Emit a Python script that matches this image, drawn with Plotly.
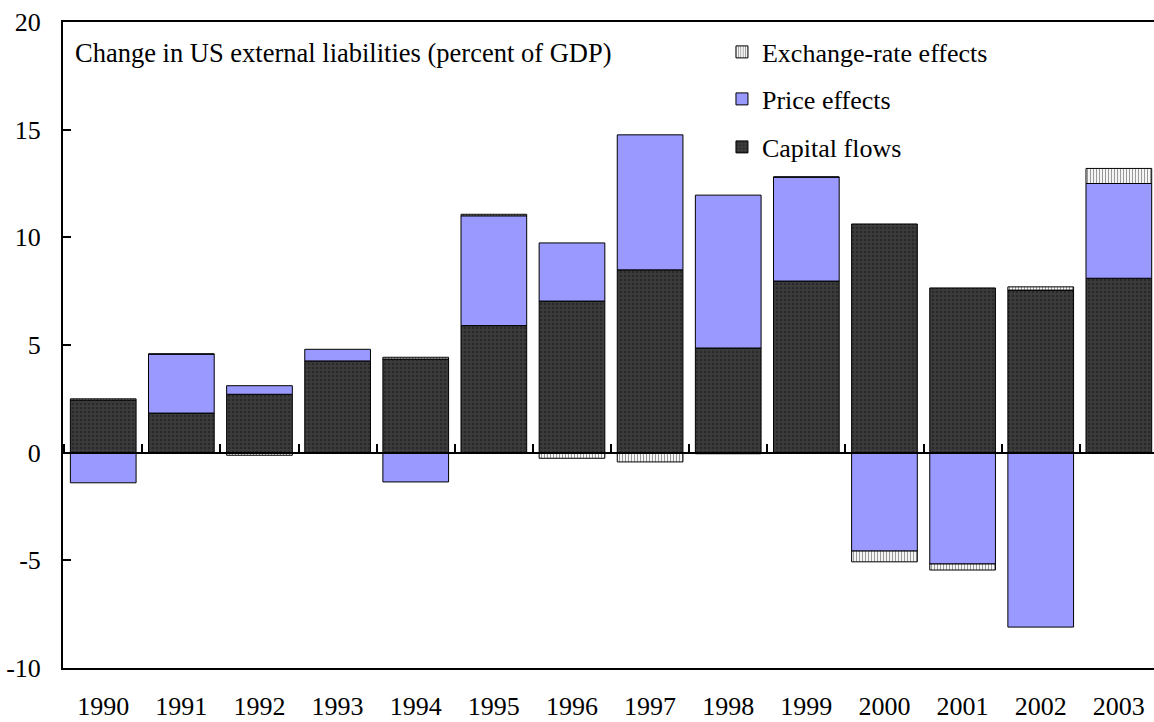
import plotly.graph_objects as go

years = ["1990", "1991", "1992", "1993", "1994", "1995", "1996",
         "1997", "1998", "1999", "2000", "2001", "2002", "2003"]
capital_flows = [2.45, 1.84, 2.71, 4.26, 4.35, 5.90, 7.04, 8.49, 4.86, 7.97, 10.62, 7.65, 7.55, 8.10]
price_effects = [-1.40, 2.74, 0.40, 0.54, -1.36, 5.10, 2.70, 6.27, 7.10, 4.83, -4.57, -5.17, -8.10, 4.40]
exchange_effects = [0.05, 0.0, -0.12, -0.03, 0.08, 0.07, -0.26, -0.43, -0.05, 0.0, -0.50, -0.28, 0.15, 0.70]
y_ticks = [-10, -5, 0, 5, 10, 15, 20]
y_labels = ["-10", "-5", "0", "5", "10", "15", "20"]

FONT = "Liberation Serif"
FS = 26
fig = go.Figure()

fig.add_trace(go.Bar(
    x=years, y=capital_flows, name="Capital flows", legend="legend3",
    marker=dict(color="#3c3c3c", line=dict(color="black", width=1),
                pattern=dict(shape=".", bgcolor="#3c3c3c", fgcolor="#151515", size=4, solidity=0.35)),
))
fig.add_trace(go.Bar(
    x=years, y=price_effects, name="Price effects", legend="legend2",
    marker=dict(color="#9999ff", line=dict(color="black", width=1)),
))
fig.add_trace(go.Bar(
    x=years, y=exchange_effects, name="Exchange-rate effects", legend="legend",
    marker=dict(color="white", line=dict(color="black", width=1),
                pattern=dict(shape="|", bgcolor="white", fgcolor="#333333", size=3, solidity=0.4)),
))
# invisible helper so the zero-line axis gets category ticks
fig.add_trace(go.Scatter(
    x=years, y=capital_flows, xaxis="x2", mode="markers",
    marker=dict(opacity=0), showlegend=False, hoverinfo="skip",
))

xr = [-0.515, 13.45]
leg = dict(xref="paper", yref="paper", x=0.604, xanchor="left", yanchor="middle",
           font=dict(family=FONT, size=FS), bgcolor="rgba(0,0,0,0)")
fig.update_layout(
    width=1154, height=722,
    barmode="relative", bargap=0.159,
    plot_bgcolor="white", paper_bgcolor="white",
    margin=dict(l=63, r=0, t=22, b=54),
    font=dict(family=FONT, size=FS, color="black"),
    xaxis=dict(type="category", range=xr, showline=True, linecolor="black", linewidth=2,
               mirror=True, ticks="", showgrid=False, ticklabelstandoff=14, automargin=False,
               tickfont=dict(family=FONT, size=FS)),
    xaxis2=dict(type="category", range=xr, overlaying="x", anchor="free", position=1 / 3,
                showline=True, linecolor="black", linewidth=2, ticks="inside",
                tickson="boundaries", ticklen=8, tickwidth=2, tickcolor="black",
                showticklabels=False, showgrid=False, automargin=False),
    yaxis=dict(range=[-10, 20], tickvals=y_ticks, ticktext=y_labels, showline=True,
               linecolor="black", linewidth=2, ticks="inside", ticklen=8, tickwidth=2,
               tickcolor="black", showgrid=False, zeroline=False, ticklabelstandoff=15,
               automargin=False, tickfont=dict(family=FONT, size=FS)),
    legend=dict(leg, y=(668 - 52) / 646),
    legend2=dict(leg, y=(668 - 99) / 646),
    legend3=dict(leg, y=(668 - 147) / 646),
    annotations=[dict(text="Change in US external liabilities (percent of GDP)",
                      xref="paper", yref="paper", x=0.0092, y=(668 - 53) / 646,
                      xanchor="left", yanchor="middle", showarrow=False,
                      font=dict(family=FONT, size=26.5))],
)

fig.write_html("out.html", config={"displayModeBar": False},
               post_script="document.body.style.margin='0';document.body.style.overflow='hidden';")
